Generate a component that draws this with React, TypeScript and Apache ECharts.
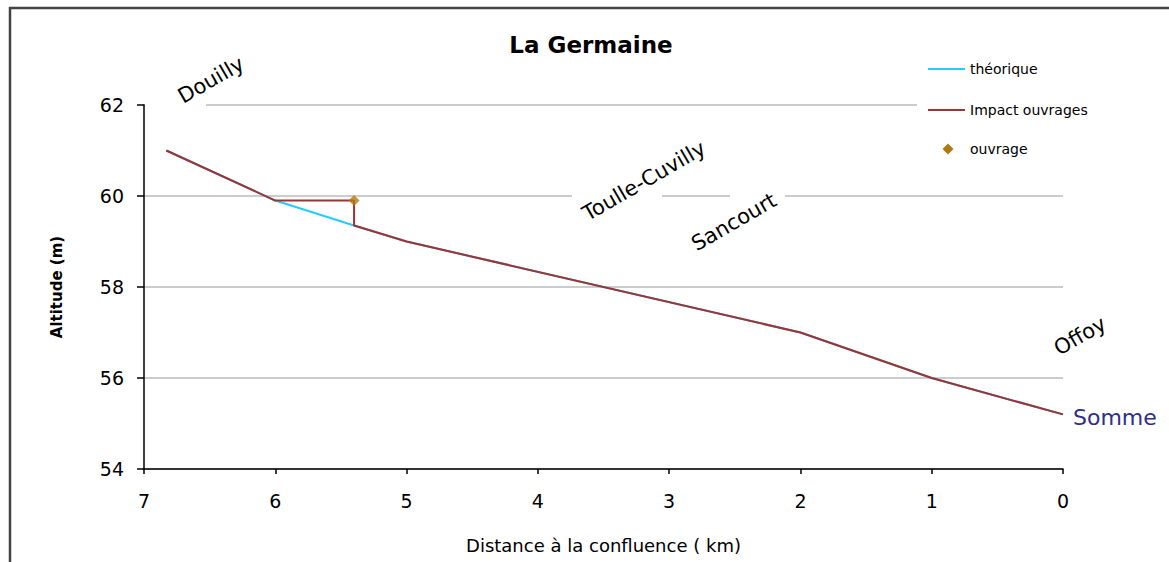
import React, { useEffect, useRef } from "react";
import * as echarts from "echarts";

// Distance à la confluence (km) and altitude (m)
const theoDist = [6.83, 6.0, 5.4, 5.0, 2.0, 1.0, 0.0];
const theoAlt = [61.0, 59.9, 59.35, 59.0, 57.0, 56.0, 55.2];
const impactDist = [6.83, 6.0, 5.4, 5.4, 5.0, 2.0, 1.0, 0.0];
const impactAlt = [61.0, 59.9, 59.9, 59.35, 59.0, 57.0, 56.0, 55.2];
const ouvrageDist = [5.4];
const ouvrageAlt = [59.9];

const seriesNames = ["théorique", "Impact ouvrages", "ouvrage"];
const seriesColors = ["#22CCFF", "#A03232", "#B07A12"];
const villages = ["Douilly", "Toulle-Cuvilly", "Sancourt", "Offoy"];
const title = "La Germaine";
const riverLabel = "Somme";
const xName = "Distance à la confluence ( km)";
const yName = "Altitude (m)";

const FONT = "DejaVu Sans";

export default function App() {
  const ref = useRef<HTMLDivElement>(null);
  useEffect(() => {
    const chart = echarts.init(ref.current!, null, { renderer: "svg" });
    const rot = Math.PI / 6;
    const villagePos = [
      [211, 80],
      [644, 181],
      [734, 222],
      [1080, 336],
    ];
    const legendY = [69, 110, 149];
    chart.setOption({
      animation: false,
      backgroundColor: "#fff",
      grid: { left: 144, right: 106, top: 105, bottom: 93 },
      xAxis: {
        type: "value",
        inverse: true,
        min: 0,
        max: 7,
        interval: 1,
        name: xName,
        nameLocation: "middle",
        nameGap: 67,
        nameTextStyle: { fontFamily: FONT, fontSize: 18, color: "#000" },
        axisLine: { onZero: false, lineStyle: { color: "#000", width: 1.5 } },
        axisTick: { show: true, inside: false, length: 5, lineStyle: { color: "#000", width: 1.5 } },
        axisLabel: { margin: 22, fontFamily: FONT, fontSize: 19, color: "#000" },
        splitLine: { show: false },
      },
      yAxis: {
        type: "value",
        position: "left",
        min: 54,
        max: 62,
        interval: 2,
        name: yName,
        nameLocation: "middle",
        nameGap: 80,
        nameRotate: 90,
        nameTextStyle: { fontFamily: FONT, fontSize: 15, fontWeight: "bold", color: "#000" },
        axisLine: { show: true, onZero: false, lineStyle: { color: "#000", width: 1.5 } },
        axisTick: { show: true, inside: false, length: 7, lineStyle: { color: "#000", width: 1.5 } },
        axisLabel: { margin: 20, fontFamily: FONT, fontSize: 19, color: "#000" },
        splitLine: { show: true, lineStyle: { color: "#cccccc", width: 2 } },
      },
      series: [
        {
          name: seriesNames[0],
          type: "line",
          data: theoDist.map((d, i) => [d, theoAlt[i]]),
          symbol: "none",
          lineStyle: { color: seriesColors[0], width: 2 },
          itemStyle: { color: seriesColors[0] },
          z: 2,
        },
        {
          name: seriesNames[1],
          type: "line",
          data: impactDist.map((d, i) => [d, impactAlt[i]]),
          symbol: "none",
          lineStyle: { color: seriesColors[1], width: 2 },
          itemStyle: { color: seriesColors[1] },
          z: 3,
        },
        {
          name: seriesNames[2],
          type: "scatter",
          data: ouvrageDist.map((d, i) => [d, ouvrageAlt[i]]),
          symbol: "diamond",
          symbolSize: 11,
          itemStyle: { color: seriesColors[2] },
          z: 4,
        },
      ],
      graphic: [
        {
          type: "rect",
          shape: { x: 10, y: 8, width: 1300, height: 700 },
          style: { fill: "none", stroke: "#444", lineWidth: 2.5 },
          z: 1,
        },
        { type: "rect", shape: { x: 145, y: 100, width: 61, height: 9 }, style: { fill: "#fff" }, z: 5 },
        { type: "rect", shape: { x: 572, y: 190, width: 90, height: 9 }, style: { fill: "#fff" }, z: 5 },
        { type: "rect", shape: { x: 730, y: 190, width: 55, height: 9 }, style: { fill: "#fff" }, z: 5 },
        // legend box
        { type: "rect", shape: { x: 917, y: 55, width: 200, height: 108 }, style: { fill: "#fff" }, z: 5 },
        {
          type: "line",
          shape: { x1: 928, y1: legendY[0], x2: 965, y2: legendY[0] },
          style: { stroke: seriesColors[0], lineWidth: 2 },
          z: 6,
        },
        {
          type: "line",
          shape: { x1: 928, y1: legendY[1], x2: 965, y2: legendY[1] },
          style: { stroke: seriesColors[1], lineWidth: 2 },
          z: 6,
        },
        {
          type: "polygon",
          shape: {
            points: [
              [948, legendY[2] - 5.5],
              [953.5, legendY[2]],
              [948, legendY[2] + 5.5],
              [942.5, legendY[2]],
            ],
          },
          style: { fill: seriesColors[2] },
          z: 6,
        },
        ...seriesNames.map((n, i) => ({
          type: "text",
          x: 970,
          y: legendY[i],
          style: {
            text: n,
            font: `14px "${FONT}"`,
            fill: "#000",
            textAlign: "left",
            textVerticalAlign: "middle",
          },
          z: 6,
        })),
        {
          type: "text",
          x: 591,
          y: 45,
          style: {
            text: title,
            font: `bold 23px "${FONT}"`,
            fill: "#000",
            textAlign: "center",
            textVerticalAlign: "middle",
          },
          z: 10,
        },
        ...villages.map((v, i) => ({
          type: "text",
          x: villagePos[i][0],
          y: villagePos[i][1],
          rotation: rot,
          style: {
            text: v,
            font: `21px "${FONT}"`,
            fill: "#000",
            textAlign: "center",
            textVerticalAlign: "middle",
          },
          z: 10,
        })),
        {
          type: "text",
          x: 1073,
          y: 417,
          style: {
            text: riverLabel,
            font: `22px "${FONT}"`,
            fill: "#2E2E8E",
            textAlign: "left",
            textVerticalAlign: "middle",
          },
          z: 10,
        },
      ],
    });
    return () => chart.dispose();
  }, []);
  return (
    <div
      ref={ref}
      style={{ position: "fixed", left: 0, top: 0, width: 1169, height: 562, background: "#fff" }}
    />
  );
}
